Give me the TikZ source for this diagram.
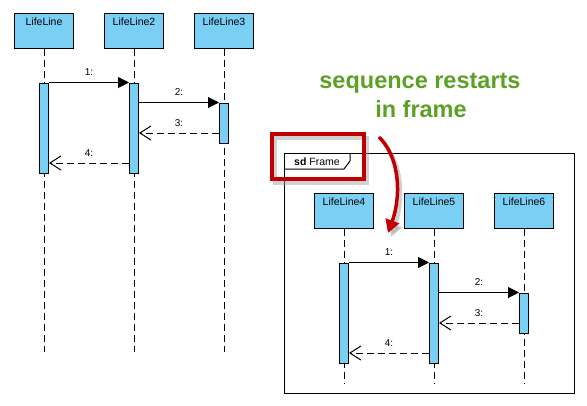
\documentclass[tikz,border=0pt]{standalone}
\usepackage{fontspec}
\setmainfont{Liberation Sans}
\usetikzlibrary{arrows.meta,calc}
\definecolor{llblue}{RGB}{122,207,245}
\definecolor{annred}{RGB}{192,0,0}
\definecolor{anngreen}{RGB}{92,160,36}
\tikzset{
  head/.style={draw=black,line width=1pt,fill=llblue,minimum width=59pt,minimum height=35pt,inner sep=0pt},
  headlabel/.style={font=\fontsize{10.5}{12}\selectfont,anchor=base},
  lifeln/.style={line width=0.9pt,dash pattern=on 7pt off 4pt},
  actbox/.style={draw=black,line width=1pt,fill=llblue,minimum width=9pt,inner sep=0pt},
  callmsg/.style={line width=1pt,-{Triangle[length=11pt,width=11pt]}},
  retmsg/.style={line width=1pt,dash pattern=on 7pt off 4pt,-{Straight Barb[length=11pt,width=14pt]}},
  msglabel/.style={font=\fontsize{10}{12}\selectfont,above=3pt,midway},
  greentext/.style={text=anngreen,font=\fontsize{23.5}{28}\selectfont\bfseries,anchor=base,inner sep=0pt},
}
\begin{document}
\begin{tikzpicture}[x=1pt,y=-1pt]
\useasboundingbox (0,0) rectangle (587,405);
% ---------- top diagram ----------
\node[head] (L1) at (44,30.5) {};
\node[head] (L2) at (134,30.5) {};
\node[head] (L3) at (224,30.5) {};
\node[headlabel] (t1) at (44,25) {LifeLine};
\node[headlabel] (t2) at (134,25) {LifeLine2};
\node[headlabel] (t3) at (224,25) {LifeLine3};
\coordinate (e1) at (44,352);
\coordinate (e2) at (134,352);
\coordinate (e3) at (224,352);
\draw[lifeln] (L1.south) -- (e1);
\draw[lifeln] (L2.south) -- (e2);
\draw[lifeln] (L3.south) -- (e3);
\node[actbox,minimum height=90pt] (a1) at (44,128) {};
\node[actbox,minimum height=90pt] (a2) at (134,128) {};
\node[actbox,minimum height=40pt] (a3) at (224,123) {};
\draw[callmsg] (a1.north east) -- node[msglabel] {1:} (a2.north west);
\draw[callmsg] (a2.east |- a3.north) -- node[msglabel] {2:} (a3.north west);
\draw[retmsg] (a3.west |- 0,133) -- node[msglabel] {3:} (a2.east |- 0,133);
\draw[retmsg] (a2.west |- 0,163) -- node[msglabel] {4:} (a1.east |- 0,163);
% ---------- frame ----------
\node[draw=black,line width=1pt,minimum width=290pt,minimum height=240pt,inner sep=0pt] (F) at (429,273) {};
\draw[line width=1pt] (284,169) -- (344,169) -- (350,161) -- (350,153);
\node[font=\fontsize{10.5}{12}\selectfont,anchor=base] (ft) at (317,165) {\textbf{sd} Frame};
\node[head] (L4) at (344,210.5) {};
\node[head] (L5) at (434,210.5) {};
\node[head] (L6) at (524,210.5) {};
\node[headlabel] (t4) at (344,205) {LifeLine4};
\node[headlabel] (t5) at (434,205) {LifeLine5};
\node[headlabel] (t6) at (524,205) {LifeLine6};
\coordinate (e4) at (344,383);
\coordinate (e5) at (434,383);
\coordinate (e6) at (524,383);
\draw[lifeln] (L4.south) -- (e4);
\draw[lifeln] (L5.south) -- (e5);
\draw[lifeln] (L6.south) -- (e6);
\node[actbox,minimum height=100pt] (a4) at (344,313) {};
\node[actbox,minimum height=100pt] (a5) at (434,313) {};
\node[actbox,minimum height=40pt] (a6) at (524,313) {};
\draw[callmsg] (a4.north east) -- node[msglabel] {1:} (a5.north west);
\draw[callmsg] (a5.east |- a6.north) -- node[msglabel] {2:} (a6.north west);
\draw[retmsg] (a6.west |- 0,323) -- node[msglabel] {3:} (a5.east |- 0,323);
\draw[retmsg] (a5.west |- 0,353) -- node[msglabel] {4:} (a4.east |- 0,353);
% ---------- annotation ----------
\node[greentext] (g1) at (420,88) {sequence restarts};
\node[greentext] (g2) at (421,117) {in frame};
% shadows
\draw[black!40,opacity=0.45,line width=4pt] (275,138) rectangle (367,183);
\draw[black!40,opacity=0.45,line width=3.5pt,-{Triangle[length=13pt,width=14pt]}]
  (382,141) .. controls (405,164) and (403,204) .. (391,237);
% red
\node[draw=annred,line width=3.3pt,minimum width=92pt,minimum height=45pt,inner sep=0pt] (R) at (318,156.5) {};
\coordinate (rs) at (379,137);
\coordinate (re) at (388,233);
\draw[annred,line width=3.5pt,-{Triangle[length=13pt,width=14pt]}]
  (rs) .. controls (402,160) and (400,200) .. (re);
\end{tikzpicture}
\end{document}
